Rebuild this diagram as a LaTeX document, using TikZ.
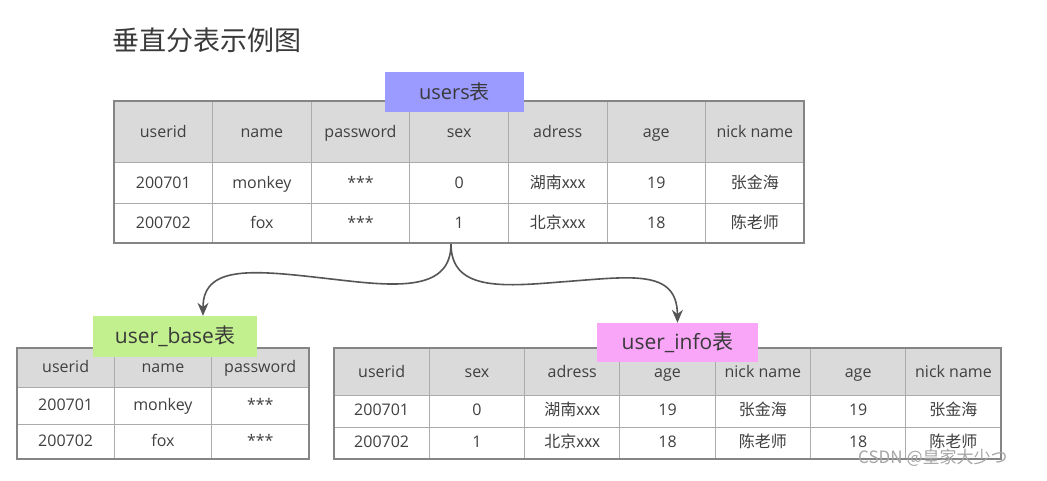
\documentclass[tikz,border=0pt]{standalone}
\usepackage{fontspec}
\setmainfont{Open Sans}
\newfontfamily\cjk{Noto Sans CJK SC}
\usetikzlibrary{arrows.meta,calc}
\definecolor{ink}{HTML}{404040}
\definecolor{gridgray}{HTML}{ABABAB}
\definecolor{framegray}{HTML}{858585}
\definecolor{headbg}{HTML}{DADADA}
\definecolor{usersbg}{HTML}{9A9AFF}
\definecolor{basebg}{HTML}{C2F08E}
\definecolor{infobg}{HTML}{F9A6F9}
\definecolor{arrgray}{HTML}{555555}
\tikzset{
  cell/.style={font=\fontsize{16}{18}\selectfont,text=ink,inner sep=0pt,
               text height=13pt,text depth=2pt},
  tag/.style={inner sep=0pt,text=ink!90!black,
              font=\fontsize{21}{24}\selectfont,
              text height=17pt,text depth=3pt},
  gridline/.style={gridgray,line width=1pt},
  frame/.style={draw=framegray,line width=2pt},
  splitarr/.style={-{Stealth[length=13pt,width=11pt]},arrgray,line width=1.6pt}
}

\begin{document}
\begin{tikzpicture}[x=1pt,y=-1pt]
  \useasboundingbox (0,0) rectangle (1047,480);
  \fill[white] (0,0) rectangle (1047,480);

  % title
  \node[anchor=west,font=\cjk\fontsize{27}{30}\selectfont,text=ink!90!black,inner sep=0pt]
    (title) at (112,40) {垂直分表示例图};

  % users table
  \fill[headbg] (114,101) rectangle (804,162);
  \foreach \t [count=\c from 0] in {userid,name,password,sex,adress,age,nick name}
    \node[cell] (u-0-\c) at ({114+98.6*(\c+0.5)},131.5) {\t};
  \foreach \t [count=\c from 0] in {200701,monkey,***,0,\cjk{湖南}xxx,19,\cjk{张金海}}
    \node[cell] (u-1-\c) at ({114+98.6*(\c+0.5)},182.5) {\t};
  \foreach \t [count=\c from 0] in {200702,fox,***,1,\cjk{北京}xxx,18,\cjk{陈老师}}
    \node[cell] (u-2-\c) at ({114+98.6*(\c+0.5)},223) {\t};
  \foreach \c in {1,...,6}
    \draw[gridline] ({114+98.6*\c},101) -- ({114+98.6*\c},243);
  \draw[gridline] (114,162) -- (804,162) (114,203) -- (804,203);
  \draw[frame] (114,101) rectangle (804,243);

  % user_base table
  \fill[headbg] (17,348) rectangle (309,387);
  \foreach \t [count=\c from 0] in {userid,name,password}
    \node[cell] (b-0-\c) at ({17+97.3*(\c+0.5)},367) {\t};
  \foreach \t [count=\c from 0] in {200701,monkey,***}
    \node[cell] (b-1-\c) at ({17+97.3*(\c+0.5)},405) {\t};
  \foreach \t [count=\c from 0] in {200702,fox,***}
    \node[cell] (b-2-\c) at ({17+97.3*(\c+0.5)},441) {\t};
  \foreach \c in {1,2}
    \draw[gridline] ({17+97.3*\c},348) -- ({17+97.3*\c},459);
  \draw[gridline] (17,387) -- (309,387) (17,424) -- (309,424);
  \draw[frame] (17,348) rectangle (309,459);

  % user_info table
  \fill[headbg] (334,348) rectangle (1001,395);
  \foreach \t [count=\c from 0] in {userid,sex,adress,age,nick name,age,nick name}
    \node[cell] (i-0-\c) at ({334+95.3*(\c+0.5)},371.5) {\t};
  \foreach \t [count=\c from 0] in {200701,0,\cjk{湖南}xxx,19,\cjk{张金海},19,\cjk{张金海}}
    \node[cell] (i-1-\c) at ({334+95.3*(\c+0.5)},410) {\t};
  \foreach \t [count=\c from 0] in {200702,1,\cjk{北京}xxx,18,\cjk{陈老师},18,\cjk{陈老师}}
    \node[cell] (i-2-\c) at ({334+95.3*(\c+0.5)},442) {\t};
  \foreach \c in {1,...,6}
    \draw[gridline] ({334+95.3*\c},348) -- ({334+95.3*\c},459);
  \draw[gridline] (334,395) -- (1001,395) (334,427) -- (1001,427);
  \draw[frame] (334,348) rectangle (1001,459);

  % table tags
  \node[tag,fill=usersbg,minimum width=139,minimum height=40,
        font=\fontsize{20}{24}\selectfont] (users) at (454.5,92) {users\cjk{表}};
  \node[tag,fill=basebg,minimum width=164,minimum height=41] (base)
    at (175,336.5) {user\_base\cjk{表}};
  \node[tag,fill=infobg,minimum width=161,minimum height=39] (info)
    at (677.5,342.5) {user\_info\cjk{表}};

  % split arrows
  \coordinate (split) at (451,244);
  \draw[splitarr] (split) .. controls (451,290) and (400,287) .. (340,280)
    .. controls (260,271) and (203,262) .. ($(base.north)+(28,0)$);
  \draw[splitarr] (split) .. controls (451,290) and (500,287) .. (560,282)
    .. controls (630,277) and (677,268) .. (info.north);

  % watermark
  \node[anchor=west,font=\cjk\fontsize{17}{20}\selectfont,text=gray!70,inner sep=0pt]
    (mark) at (858,458) {CSDN @皇家大少つ};
\end{tikzpicture}
\end{document}
